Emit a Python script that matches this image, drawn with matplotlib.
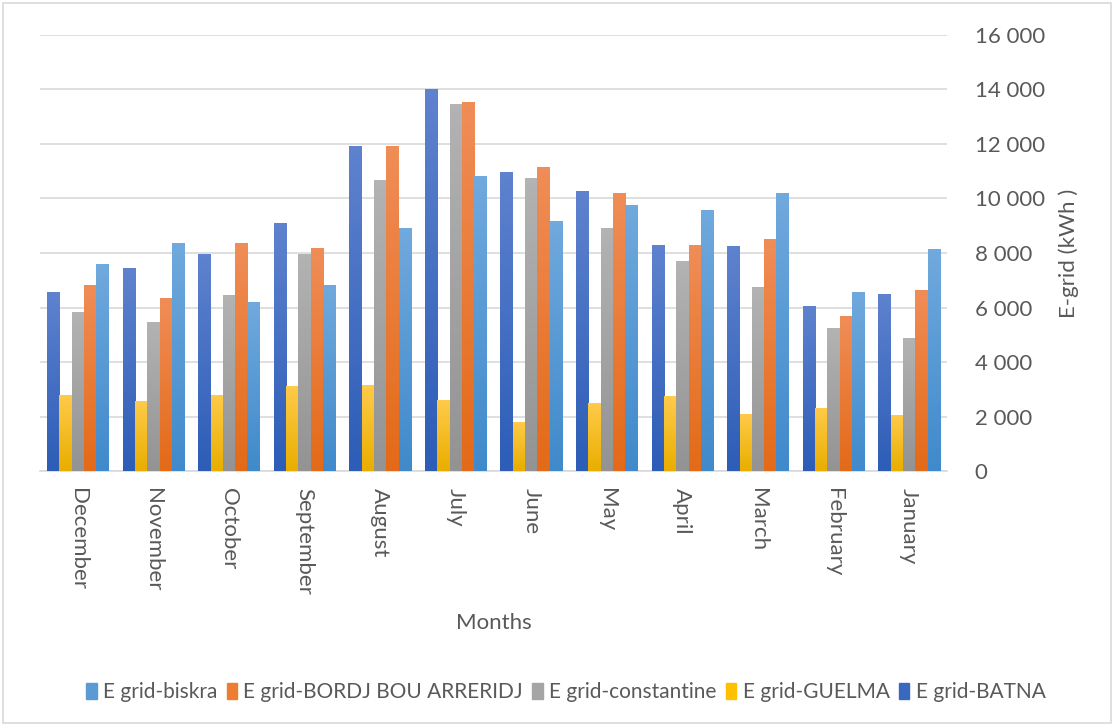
import numpy as np
import matplotlib.pyplot as plt
from matplotlib.colors import LinearSegmentedColormap
from matplotlib.patches import Rectangle
from matplotlib.ticker import FuncFormatter

months = ["December", "November", "October", "September", "August", "July",
          "June", "May", "April", "March", "February", "January"]

# monthly grid energy per site (kWh)
batna = [6560, 7440, 7980, 9090, 11910, 14000, 10980, 10260, 8290, 8250, 6060, 6500]
guelma = [2800, 2570, 2800, 3120, 3170, 2620, 1800, 2510, 2740, 2110, 2330, 2070]
constantine = [5830, 5460, 6460, 7960, 10660, 13480, 10740, 8900, 7700, 6750, 5250, 4890]
bordj = [6830, 6340, 8360, 8200, 11910, 13550, 11140, 10190, 8290, 8510, 5690, 6640]
biskra = [7580, 8360, 6190, 6830, 8900, 10810, 9170, 9750, 9570, 10190, 6570, 8140]

# (label, values, top colour, bottom colour, legend colour)
series = [
    ("E grid-BATNA", batna, "#5E82CE", "#2D5DB7", "#3A67C0"),
    ("E grid-GUELMA", guelma, "#FFCB4A", "#E9AE00", "#FFC000"),
    ("E grid-constantine", constantine, "#B3B3B3", "#939393", "#A5A5A5"),
    ("E grid-BORDJ BOU ARRERIDJ", bordj, "#F08D57", "#E36A18", "#ED7D31"),
    ("E grid-biskra", biskra, "#70A9DD", "#408ACB", "#5B9BD5"),
]

plt.rcParams['font.family'] = ['Lato', 'DejaVu Sans']
txt = "#595959"
fs = 16

fig = plt.figure(figsize=(11.14, 7.26), dpi=100)
ax = fig.add_axes([0.036, 0.351, 0.814, 0.601])

x = np.arange(len(months))
w = 0.163
grad = np.linspace(1, 0, 64).reshape(-1, 1)

for i, (label, vals, top, bot, solid) in enumerate(series):
    pos = x + (i - 2) * w
    bars = ax.bar(pos, vals, width=w, color=solid, linewidth=0, zorder=2)
    cmap = LinearSegmentedColormap.from_list(label, [bot, top])
    for b in bars:
        bx, by = b.get_x(), b.get_y()
        im = ax.imshow(grad, cmap=cmap, aspect="auto", zorder=3,
                       extent=[bx, bx + b.get_width(), by, by + b.get_height()])
        im.set_clip_path(b)

ax.set_xlim(-0.5, len(months) - 0.5)
ax.set_ylim(0, 16000)
ax.set_yticks(np.arange(0, 16001, 2000))
ax.yaxis.set_major_formatter(FuncFormatter(lambda v, p: f"{int(v):,}".replace(",", " ")))
ax.yaxis.tick_right()
ax.yaxis.set_label_position("right")
ax.tick_params(axis="y", length=0, pad=20, labelsize=fs, labelcolor=txt)
ax.set_ylabel("E-grid (kWh )", fontsize=fs, color=txt, labelpad=10)

ax.set_xticks(x)
ax.set_xticklabels(months, rotation=270, fontsize=fs, color=txt)
ax.tick_params(axis="x", length=0, pad=12)
ax.set_xlabel("Months", fontsize=fs, color=txt, labelpad=13)

ax.grid(axis="y", color="#D9D9D9", linewidth=1.2, zorder=0)
ax.set_axisbelow(True)
for s in ["top", "right", "left"]:
    ax.spines[s].set_visible(False)
ax.spines["bottom"].set_color("#D9D9D9")
ax.spines["bottom"].set_linewidth(1.2)

# legend lists the sites in reverse bar order
leg_h = [Rectangle((0, 0), 1, 1, color=s[4]) for s in series][::-1]
leg_l = [s[0] for s in series][::-1]
fig.legend(leg_h, leg_l, loc="center", bbox_to_anchor=(0.508, 0.047), ncol=5,
           frameon=False, fontsize=15, labelcolor=txt, handlelength=0.5,
           handleheight=0.8, handletextpad=0.3, columnspacing=0.45)

fig.patches.append(Rectangle((0.003, 0.004), 0.994, 0.992, transform=fig.transFigure,
                             fill=False, edgecolor="#D9D9D9", linewidth=1.2))

fig.savefig("out.png", dpi=100)
